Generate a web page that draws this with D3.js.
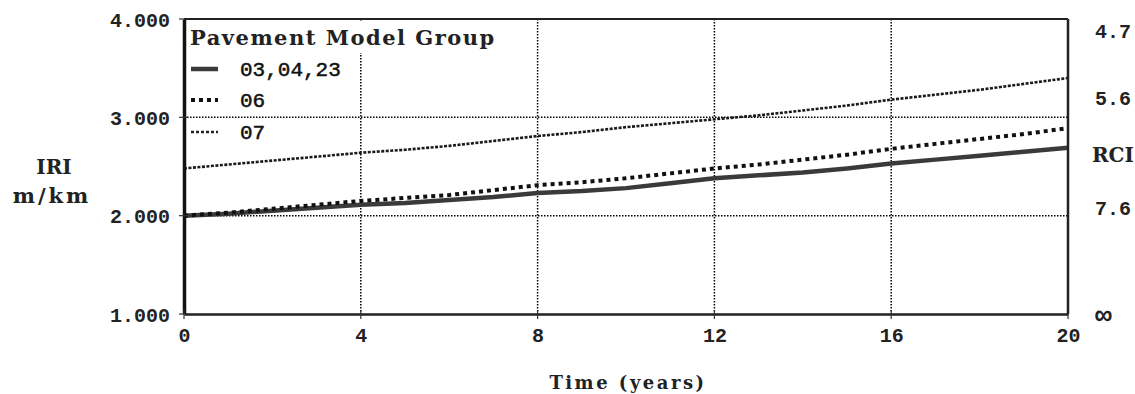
<!DOCTYPE html>
<html>
<head>
<meta charset="utf-8">
<script src="https://cdn.jsdelivr.net/npm/d3@7"></script>
<style>
  html, body { margin: 0; padding: 0; background: #fff; }
  .grid line { stroke: #000; stroke-width: 1.5; stroke-dasharray: 1.5,1.5; }
</style>
</head>
<body>
<div id="chart"></div>
<script>
// ---- data ----
const years = [0, 1, 2, 3, 4, 5, 6, 7, 8, 9, 10, 11, 12, 13, 14, 15, 16, 17, 18, 19, 20];
const group030423 = [2.00, 2.02, 2.05, 2.08, 2.11, 2.13, 2.16, 2.19, 2.23, 2.25, 2.28, 2.33, 2.38, 2.41, 2.44, 2.48, 2.53, 2.57, 2.61, 2.65, 2.69];
const group06 = [2.00, 2.03, 2.07, 2.11, 2.15, 2.18, 2.21, 2.26, 2.31, 2.34, 2.38, 2.43, 2.48, 2.52, 2.57, 2.62, 2.68, 2.73, 2.78, 2.83, 2.89];
const group07 = [2.48, 2.52, 2.56, 2.60, 2.64, 2.67, 2.71, 2.76, 2.81, 2.85, 2.90, 2.94, 2.98, 3.02, 3.07, 3.12, 3.18, 3.23, 3.28, 3.34, 3.40];
const seriesNames = ['03, 04, 23', '06', '07'];

const xTicks = [0, 4, 8, 12, 16, 20];
const yTicks = [1, 2, 3, 4];
const xGrid = [4, 8, 12, 16];
const yGrid = [2, 3];
// RCI labels on the right, placed at the IRI value they correspond to
const rciLabels = ['4.7', '5.6', '7.6', '\u221E'];
const rciAtIri = [3.88, 3.20, 2.08, 1.00];

// ---- layout ----
const width = 1135, height = 394;
const plot = {left: 184, right: 1068, top: 19, bottom: 314};
const mono = '"Liberation Mono", monospace';
const serif = '"DejaVu Serif", serif';

const svg = d3.select('#chart').append('svg')
  .attr('width', width)
  .attr('height', height)
  .style('background', '#fff');

const x = d3.scaleLinear().domain([0, 20]).range([plot.left, plot.right]);
const y = d3.scaleLinear().domain([1, 4]).range([plot.bottom, plot.top]);

// Grid lines
const grid = svg.append('g').attr('class', 'grid');
grid.selectAll('.vg').data(xGrid).enter().append('line')
  .attr('x1', (d) => x(d)).attr('x2', (d) => x(d))
  .attr('y1', plot.top).attr('y2', plot.bottom);
grid.selectAll('.hg').data(yGrid).enter().append('line')
  .attr('x1', plot.left).attr('x2', plot.right)
  .attr('y1', (d) => y(d)).attr('y2', (d) => y(d));

// Series lines
const line = d3.line()
  .x((d, i) => x(years[i]))
  .y((d) => y(d));

svg.append('path').datum(group07)
  .attr('d', line)
  .attr('fill', 'none')
  .attr('stroke', '#1a1a1a')
  .attr('stroke-width', 2.6)
  .attr('stroke-dasharray', '3,1.5');
svg.append('path').datum(group030423)
  .attr('d', line)
  .attr('fill', 'none')
  .attr('stroke', '#3a3a3a')
  .attr('stroke-width', 4.5);
svg.append('path').datum(group06)
  .attr('d', line)
  .attr('fill', 'none')
  .attr('stroke', '#111')
  .attr('stroke-width', 4)
  .attr('stroke-dasharray', '4,4');

// Frame / axes
const xAxis = d3.axisBottom(x).tickValues(xTicks).tickSize(0).tickPadding(14).tickFormat(d3.format('d'));
const gx = svg.append('g')
  .attr('transform', 'translate(0,' + plot.bottom + ')')
  .call(xAxis);
gx.select('.domain').attr('stroke', '#222').attr('stroke-width', 2.5);
gx.selectAll('text')
  .style('font-family', mono).style('font-size', '20px').style('font-weight', 'bold').attr('fill', '#222');

const yAxis = d3.axisLeft(y).tickValues(yTicks).tickSize(0).tickPadding(14).tickFormat(d3.format('.3f'));
const gy = svg.append('g')
  .attr('transform', 'translate(' + plot.left + ',0)')
  .call(yAxis);
gy.select('.domain').attr('stroke', '#111').attr('stroke-width', 3.5);
gy.selectAll('text')
  .attr('dy', '0.35em')
  .style('font-family', mono).style('font-size', '20px').style('font-weight', 'bold').attr('fill', '#222');

// small cross ticks
svg.append('g').selectAll('line').data(yTicks).enter().append('line')
  .attr('x1', plot.left - 5).attr('x2', plot.left + 4)
  .attr('y1', (d) => y(d)).attr('y2', (d) => y(d))
  .attr('stroke', '#333').attr('stroke-width', 1.2);
svg.append('g').selectAll('line').data(xTicks).enter().append('line')
  .attr('x1', (d) => x(d)).attr('x2', (d) => x(d))
  .attr('y1', plot.bottom - 4).attr('y2', plot.bottom + 5)
  .attr('stroke', '#333').attr('stroke-width', 1.2);

// top and right border
svg.append('line')
  .attr('x1', plot.left).attr('x2', plot.right)
  .attr('y1', plot.top).attr('y2', plot.top)
  .attr('stroke', '#222').attr('stroke-width', 2);
svg.append('line')
  .attr('x1', plot.right).attr('x2', plot.right)
  .attr('y1', plot.top).attr('y2', plot.bottom)
  .attr('stroke', '#222').attr('stroke-width', 2.5);

// Right RCI labels
svg.append('g').selectAll('text').data(rciLabels).enter().append('text')
  .attr('x', plot.right + 27)
  .attr('y', (d, i) => y(rciAtIri[i]))
  .attr('dy', '0.35em')
  .style('font-family', mono).style('font-size', (d) => d === '\u221E' ? '28px' : '20px')
  .style('font-weight', 'bold').attr('fill', '#222')
  .text((d) => d);
svg.append('text')
  .attr('x', plot.right + 24).attr('y', 162)
  .style('font-family', serif).style('font-size', '20px').style('font-weight', 'bold')
  .attr('fill', '#222')
  .text('RCI');

// Axis titles
svg.append('text')
  .attr('x', 54).attr('y', 174)
  .attr('text-anchor', 'middle')
  .style('font-family', serif).style('font-size', '20px').style('font-weight', 'bold')
  .attr('fill', '#222')
  .text('IRI');
svg.append('text')
  .attr('x', 52).attr('y', 203)
  .attr('text-anchor', 'middle')
  .style('font-family', serif).style('font-size', '21px').style('font-weight', 'bold')
  .style('letter-spacing', '3px')
  .attr('fill', '#222')
  .text('m/km');
svg.append('text')
  .attr('x', x(10) + 2).attr('y', 389)
  .attr('text-anchor', 'middle')
  .style('font-family', serif).style('font-size', '18px').style('font-weight', 'bold')
  .style('letter-spacing', '2.5px')
  .attr('fill', '#222')
  .text('Time (years)');

// Legend
const legend = svg.append('g').attr('class', 'legend');
legend.append('rect')
  .attr('x', plot.left + 3).attr('y', plot.top + 2)
  .attr('width', 312).attr('height', 32)
  .attr('fill', '#fff');
legend.append('text')
  .attr('x', 190).attr('y', 45)
  .style('font-family', serif).style('font-size', '21px').style('font-weight', 'bold')
  .style('letter-spacing', '1.5px')
  .attr('fill', '#222')
  .text('Pavement Model Group');

const rowY = [69, 100, 132];
const rowW = [160, 82, 82];
const rowStyle = [
  {w: 4.5, dash: null, c: '#3a3a3a'},
  {w: 4, dash: '4,4', c: '#111'},
  {w: 2.4, dash: '3,2', c: '#222'}
];
const rows = legend.selectAll('.row').data(seriesNames).enter().append('g').attr('class', 'row');
rows.append('rect')
  .attr('x', plot.left + 3).attr('y', (d, i) => rowY[i] - 14)
  .attr('width', (d, i) => rowW[i]).attr('height', 28)
  .attr('fill', '#fff');
rows.append('line')
  .attr('x1', 191).attr('x2', 218)
  .attr('y1', (d, i) => rowY[i]).attr('y2', (d, i) => rowY[i])
  .attr('stroke', (d, i) => rowStyle[i].c)
  .attr('stroke-width', (d, i) => rowStyle[i].w)
  .attr('stroke-dasharray', (d, i) => rowStyle[i].dash);
rows.append('text')
  .attr('x', 240).attr('y', (d, i) => rowY[i])
  .attr('dy', '0.35em')
  .style('font-family', mono).style('font-size', '21px')
  .attr('fill', '#111')
  .attr('stroke', '#111').attr('stroke-width', 0.5)
  .text((d) => d.replace(/, /g, ','));
</script>
</body>
</html>
